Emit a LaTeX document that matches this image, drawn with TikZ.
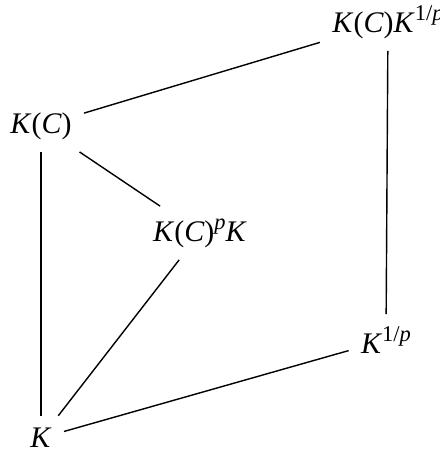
\documentclass[tikz,border=0pt]{standalone}
\usepackage{fontspec}
\setmainfont{Liberation Serif}
\usepackage{tikz}

\newcommand{\supx}[1]{\raisebox{0.4em}{\fontsize{6.4}{7}\selectfont #1}}

\begin{document}
\begin{tikzpicture}[
    fld/.style={inner sep=0.3333em},
    font=\fontsize{8.5}{10}\selectfont
]
    \useasboundingbox (0,0) rectangle (4.40,4.50);

    % 节点定义 (5个域)
    \node[fld] (KC)   at (0.41, 3.24) {\textit{K}(\textit{C})};                              % 左上节点
    \node[fld] (KCpK) at (2.00, 2.17) {\textit{K}(\textit{C})\supx{\textit{p}}\textit{K}};   % 中间节点
    \node[fld] (KCKp) at (3.88, 4.28) {\textit{K}(\textit{C})\textit{K}\supx{1/\textit{p}}}; % 右上节点
    \node[fld] (Kp)   at (3.86, 1.10) {\textit{K}\supx{1/\textit{p}}};                       % 右下节点
    \node[fld] (K)    at (0.41, 0.12) {\textit{K}};                                          % 左下节点

    % 1. 左上节点与右上节点之间的直线
    \draw (KC) -- (KCKp);

    % 2. 右上节点与右下节点之间的直线
    \draw (KCKp) -- (Kp);

    % 3. 左上节点与中间节点、左下节点之间的直线
    \draw (KC) -- (KCpK);
    \draw (KC) -- (K);

    % 4. 左下节点与中间节点、右下节点之间的直线
    \draw (K) -- (KCpK);
    \draw (K) -- (Kp);

\end{tikzpicture}
\end{document}
